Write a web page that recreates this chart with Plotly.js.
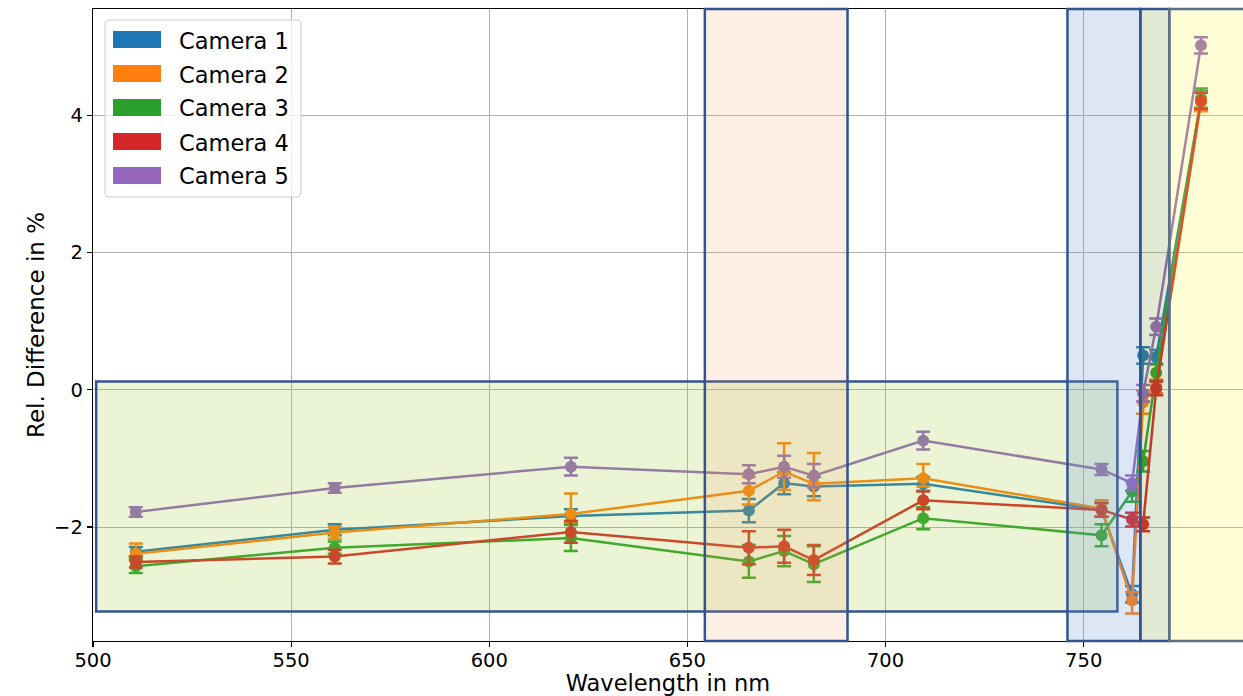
<!DOCTYPE html>
<html>
<head>
<meta charset="utf-8">
<script src="https://cdn.plot.ly/plotly-3.0.1.min.js"></script>
<style>
  html, body { margin: 0; padding: 0; background: #ffffff; }
  #chart { width: 1243px; height: 696px; }
</style>
</head>
<body>
<div id="chart"></div>
<script>
// Band centre wavelengths (nm)
const wavelengths = [510.8, 561.0, 620.6, 665.5, 674.4, 681.9, 709.5, 754.5, 762.2, 765.0, 768.3, 779.6];

const cameraNames = ['Camera 1', 'Camera 2', 'Camera 3', 'Camera 4', 'Camera 5'];
const cameraColors = ['#1f77b4', '#ff7f0e', '#2ca02c', '#d62728', '#9467bd'];

// Relative difference (%) per camera
const cam1 = [-2.36, -2.04, -1.84, -1.76, -1.36, -1.41, -1.37, -1.75, -2.98, 0.50, 0.48, 4.22];
const cam2 = [-2.39, -2.08, -1.81, -1.47, -1.19, -1.37, -1.29, -1.73, -3.07, -0.18, 0.05, 4.20];
const cam3 = [-2.57, -2.30, -2.16, -2.50, -2.35, -2.54, -1.87, -2.12, -1.48, -1.04, 0.25, 4.25];
const cam4 = [-2.51, -2.43, -2.07, -2.30, -2.28, -2.48, -1.61, -1.75, -1.89, -1.96, 0.02, 4.21];
const cam5 = [-1.78, -1.43, -1.12, -1.23, -1.12, -1.25, -0.74, -1.16, -1.36, -0.05, 0.92, 5.02];

// Uncertainty (upper / lower) per camera
const cam1ErrUp   = [0.07, 0.08, 0.10, 0.17, 0.16, 0.14, 0.10, 0.10, 0.12, 0.12, 0.10, 0.13];
const cam1ErrDown = [0.07, 0.08, 0.10, 0.17, 0.16, 0.14, 0.10, 0.10, 0.12, 0.12, 0.10, 0.13];
const cam2ErrUp   = [0.15, 0.09, 0.30, 0.20, 0.41, 0.45, 0.21, 0.12, 0.12, 0.17, 0.10, 0.14];
const cam2ErrDown = [0.10, 0.09, 0.12, 0.20, 0.27, 0.24, 0.12, 0.12, 0.19, 0.17, 0.10, 0.14];
const cam3ErrUp   = [0.10, 0.09, 0.19, 0.24, 0.22, 0.26, 0.16, 0.16, 0.15, 0.15, 0.12, 0.14];
const cam3ErrDown = [0.10, 0.09, 0.19, 0.24, 0.22, 0.26, 0.16, 0.16, 0.15, 0.15, 0.12, 0.14];
const cam4ErrUp   = [0.08, 0.10, 0.16, 0.24, 0.24, 0.22, 0.13, 0.10, 0.10, 0.10, 0.10, 0.12];
const cam4ErrDown = [0.08, 0.10, 0.16, 0.24, 0.24, 0.22, 0.13, 0.10, 0.10, 0.10, 0.10, 0.12];
const cam5ErrUp   = [0.07, 0.07, 0.13, 0.13, 0.16, 0.17, 0.13, 0.08, 0.11, 0.12, 0.12, 0.12];
const cam5ErrDown = [0.07, 0.07, 0.13, 0.13, 0.16, 0.17, 0.13, 0.08, 0.11, 0.12, 0.12, 0.12];

// Highlighted spectral windows (nm); null bounds span the full height
const regionStart = [500.8, 654.4, 745.9, 764.3, 771.6];
const regionEnd   = [758.5, 690.4, 764.3, 771.6, 795.0];
const regionLow   = [-3.23, null, null, null, null];
const regionHigh  = [0.12, null, null, null, null];

const xTicks = [500, 550, 600, 650, 700, 750];
const yTicks = [-2, 0, 2, 4];

const series = [cam1, cam2, cam3, cam4, cam5];
const errUp = [cam1ErrUp, cam2ErrUp, cam3ErrUp, cam4ErrUp, cam5ErrUp];
const errDown = [cam1ErrDown, cam2ErrDown, cam3ErrDown, cam4ErrDown, cam5ErrDown];

const FONT = 'DejaVu Sans, Liberation Sans, sans-serif';

const traces = series.map((vals, i) => ({
  type: 'scatter',
  mode: 'lines+markers',
  name: cameraNames[i],
  x: wavelengths,
  y: vals,
  line: { color: cameraColors[i], width: 2.5 },
  marker: { color: cameraColors[i], size: 12, line: { width: 0 } },
  error_y: {
    type: 'data', symmetric: false,
    array: errUp[i], arrayminus: errDown[i],
    color: cameraColors[i], thickness: 2.5, width: 7
  },
  showlegend: false
}));

// Region overlays
const regionFills = [
  'rgba(154,205,50,0.2)',
  'rgba(240,150,90,0.15)',
  'rgba(110,145,210,0.23)',
  'rgba(107,142,35,0.2)',
  'rgba(255,245,50,0.2)'
];
const regionEdges = ['#34548f', '#34548f', '#34548f', '#34548f', '#5b7186'];

const shapes = regionStart.map((x0, i) => {
  const full = regionLow[i] === null;
  return {
    type: 'rect', layer: 'above',
    xref: 'x', yref: full ? 'paper' : 'y',
    x0: x0, x1: regionEnd[i],
    y0: full ? 0 : regionLow[i], y1: full ? 1 : regionHigh[i],
    fillcolor: regionFills[i],
    line: { color: regionEdges[i], width: 2.5 }
  };
});

// Legend with rectangular patches, placed in pixel terms within the plot area
const W = 1243, H = 696;
const M = { l: 93, r: 0, t: 9, b: 55 };
const plotW = W - M.l - M.r, plotH = H - M.t - M.b;
const px = v => (v - M.l) / plotW;
const py = v => (H - M.b - v) / plotH;

const boxL = 105, boxR = 301, boxT = 20, boxB = 197, rad = 4;
const rx = rad / plotW, ry = rad / plotH;
const L = px(boxL), R = px(boxR), T = py(boxT), B = py(boxB);
shapes.push({
  type: 'path', layer: 'above', xref: 'paper', yref: 'paper',
  path: `M ${L + rx},${T} L ${R - rx},${T} Q ${R},${T} ${R},${T - ry} ` +
        `L ${R},${B + ry} Q ${R},${B} ${R - rx},${B} L ${L + rx},${B} ` +
        `Q ${L},${B} ${L},${B + ry} L ${L},${T - ry} Q ${L},${T} ${L + rx},${T} Z`,
  fillcolor: 'rgba(255,255,255,0.8)',
  line: { color: '#cccccc', width: 1 }
});

const annotations = [];
cameraNames.forEach((name, i) => {
  const cy = 39.5 + 34 * i;
  shapes.push({
    type: 'rect', layer: 'above', xref: 'paper', yref: 'paper',
    x0: px(113), x1: px(161), y0: py(cy - 8.5), y1: py(cy + 8.5),
    fillcolor: cameraColors[i], line: { width: 0 }
  });
  annotations.push({
    xref: 'paper', yref: 'paper', x: px(177), y: py(cy + 1),
    xanchor: 'left', yanchor: 'middle', showarrow: false,
    text: name, font: { family: FONT, size: 22.5, color: '#000000' }
  });
});

const axisCommon = {
  showgrid: true, gridcolor: '#b0b0b0', gridwidth: 1,
  zeroline: false,
  showline: true, linecolor: '#000000', linewidth: 1.3,
  ticks: 'outside', ticklen: 5, tickwidth: 1.2, tickcolor: '#000000',
  tickfont: { family: FONT, size: 19.5, color: '#000000' }
};

const layout = {
  width: W, height: H,
  margin: M,
  paper_bgcolor: '#ffffff', plot_bgcolor: '#ffffff',
  showlegend: false,
  xaxis: Object.assign({}, axisCommon, {
    range: [500, 790.2], tickvals: xTicks, mirror: true,
    ticklabelstandoff: -4,
    title: { text: 'Wavelength in nm', font: { family: FONT, size: 22.5, color: '#000000' }, standoff: 10 }
  }),
  yaxis: Object.assign({}, axisCommon, {
    range: [-3.66, 5.55], tickvals: yTicks,
    title: { text: 'Rel. Difference in %', font: { family: FONT, size: 23, color: '#000000' }, standoff: 3 }
  }),
  shapes: shapes,
  annotations: annotations
};

Plotly.newPlot('chart', traces, layout, { staticPlot: true, displayModeBar: false });
</script>
</body>
</html>
